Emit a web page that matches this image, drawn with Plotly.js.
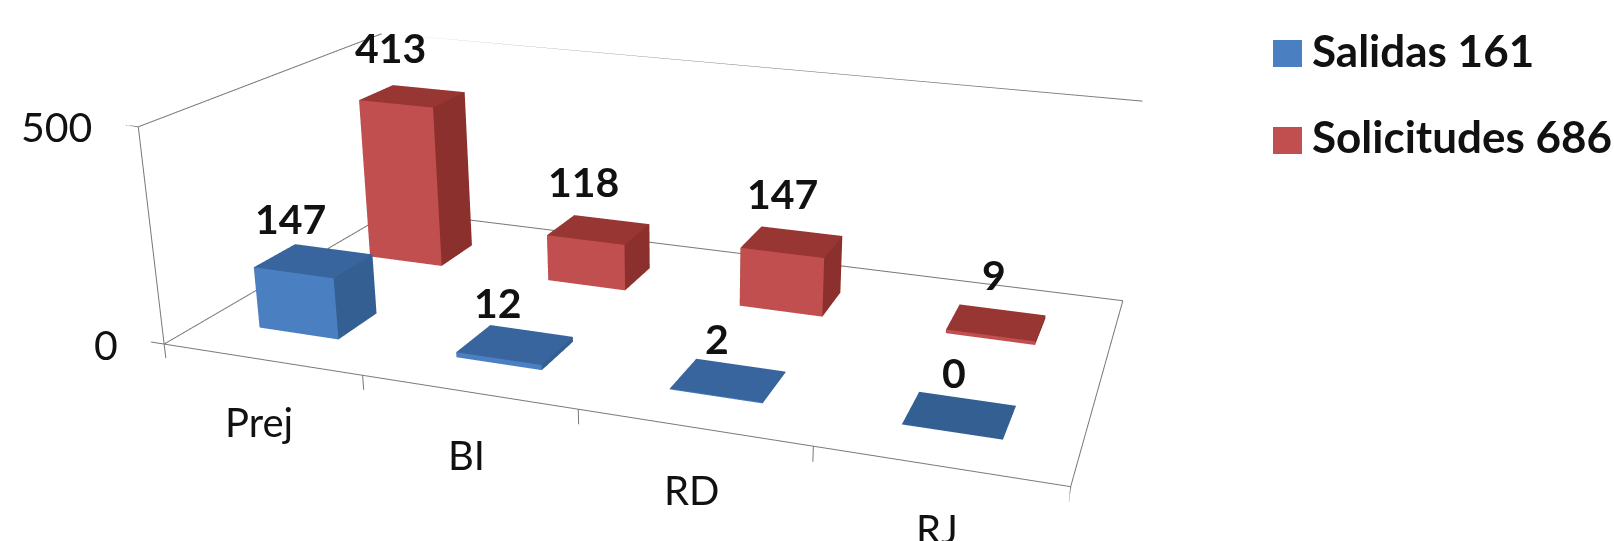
<!DOCTYPE html>
<html><head><meta charset="utf-8">
<script src="https://cdn.plot.ly/plotly-3.0.1.min.js"></script>
<style>html,body{margin:0;padding:0;background:#fff;overflow:hidden}
#w{position:absolute;left:0;top:0;width:1614px;height:541px;overflow:hidden}
#c{position:absolute;left:-100px;top:-418px;width:1714px;height:1320px}</style>
</head><body><div id="w"><div id="c"></div></div>
<script>
const categories = ['Prej','BI','RD','RJ'];
const salidas = [147,12,2,0];
const solicitudes = [413,118,147,9];
const seriesNames = ['Salidas 161','Solicitudes 686'];
const seriesColors = ['#4a7fc1','#c24f4f'];
const zTicks = [0,500];

const GW=1714, GH=1320, GL=-100, GT=-418;
const px=v=>(v-GL)/GW, py=v=>1-(v-GT)/GH;

const BW = 0.41, BD = 0.33, XS = 0.49, XR = 0.47, YS = 0.47, YR = 1.47, XL = 0.46;
function bars(vals, xc, yc, front, topc, side){
  const x=[],y=[],z=[],i=[],j=[],k=[],fc=[];
  vals.forEach((v,c)=>{
    const x0=c+xc-BW/2,x1=c+xc+BW/2,y0=yc-BD/2,y1=yc+BD/2,n=x.length;
    [[x0,y0,0],[x1,y0,0],[x1,y1,0],[x0,y1,0],[x0,y0,v],[x1,y0,v],[x1,y1,v],[x0,y1,v]].forEach(p=>{x.push(p[0]);y.push(p[1]);z.push(p[2]);});
    const q=(a,b,d,e,col)=>{i.push(n+a,n+a);j.push(n+b,n+d);k.push(n+d,n+e);fc.push(col,col);};
    q(0,1,5,4,front); q(1,2,6,5,side); q(4,5,6,7,topc); q(0,3,7,4,side); q(2,3,7,6,side); q(0,1,2,3,side);
  });
  return {x,y,z,i,j,k,facecolor:fc};
}
const lit={ambient:1,diffuse:0,specular:0,roughness:1,fresnel:0};
const t1=Object.assign(bars(salidas,XS,YS,'#4a7fc1','#38659d','#335f92'),{type:'mesh3d',name:seriesNames[0],color:seriesColors[0],flatshading:true,lighting:lit,hoverinfo:'skip'});
const t2=Object.assign(bars(solicitudes,XR,YR,'#c24f4f','#983633','#8b302c'),{type:'mesh3d',name:seriesNames[1],color:seriesColors[1],flatshading:true,lighting:lit,hoverinfo:'skip'});

const frame=[];
const seg=(a,b)=>frame.push({type:'scatter3d',mode:'lines',x:[a[0],b[0]],y:[a[1],b[1]],z:[a[2],b[2]],line:{color:'#787878',width:2},showlegend:false,hoverinfo:'skip'});
const nC=categories.length, zTop=500;
seg([0,0,0],[nC,0,0]); seg([nC,0,0],[nC,2,0]); seg([nC,2,0],[0,2,0]); seg([0,2,0],[0,0,0]);
seg([0,0,0],[0,0,zTop]); seg([0,0,zTop],[0,2,zTop]); seg([0,2,zTop],[nC,2,zTop]);
for(let c=0;c<=nC;c++) seg([c,0,0],[c,0,-34]);
zTicks.forEach(v=>seg([0,0,v],[-0.07,0,v]));

const F='Lato, sans-serif';
const ann=[];
const lab=(x,y,z,t,size,bold,dy,dx,anchor)=>ann.push({x,y,z,text:bold?'<b>'+t+'</b>':t,showarrow:false,font:{family:F,size,color:'#111'},yshift:dy||0,xshift:dx||0,xanchor:anchor||'center'});
categories.forEach((c,i)=>lab(i+0.5,0,0,c,40,false,-63,-2));
salidas.forEach((v,i)=>lab(i+XL,YS,v,String(v),41,true,41,-18+i*6.5));
solicitudes.forEach((v,i)=>lab(i+XL,YR,v,String(v),41,true,48,-20+i*6.5));
zTicks.forEach(v=>lab(0,0,v,String(v),41,false,0,-44,'right'));

const legendAnn=seriesNames.map((n,i)=>({xref:'paper',yref:'paper',x:px(1310),y:py(50+86*i),xanchor:'left',yanchor:'middle',showarrow:false,text:'<b>'+n+'</b>',font:{family:F,size:44,color:'#111'}}));
const legendShapes=seriesNames.map((n,i)=>({type:'rect',xref:'paper',yref:'paper',x0:px(1273),x1:px(1302),y0:py(40+87*i),y1:py(67+87*i),fillcolor:seriesColors[i],line:{width:0}}));

const ax={visible:false,showgrid:false,zeroline:false,showticklabels:false,showbackground:false,showspikes:false};
const layout={width:GW,height:GH,paper_bgcolor:'#fff',margin:{l:0,r:0,t:0,b:0},showlegend:false,
 font:{family:F},annotations:legendAnn,shapes:legendShapes,
 scene:{domain:{x:[0,1],y:[0,1]},dragmode:'orbit',
  xaxis:Object.assign({range:[-0.08,nC]},ax),yaxis:Object.assign({range:[0,2]},ax),zaxis:Object.assign({range:[-40,zTop]},ax),
  aspectmode:'manual',aspectratio:{x:2.04,y:1,z:0.54},
  camera:{eye:{x:1.248,y:-3.214,z:1.19},center:{x:0.226,y:0.048,z:-0.0245},up:{x:-0.0143,y:-0.0046,z:0.9998},projection:{type:'perspective'}},
  annotations:ann}};
Plotly.newPlot('c',[t1,t2].concat(frame),layout,{displayModeBar:false});
</script></body></html>
